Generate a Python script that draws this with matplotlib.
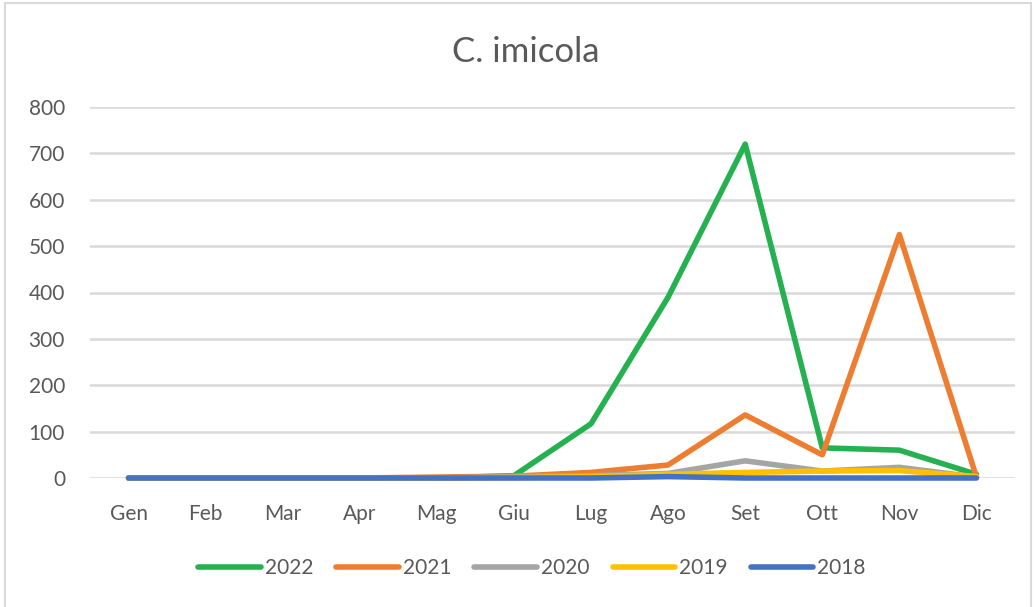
import numpy as np
import matplotlib
matplotlib.use("Agg")
import matplotlib.pyplot as plt
from matplotlib.patches import Rectangle

plt.rcParams['font.family'] = ['Lato', 'DejaVu Sans']

# ==========================================
# DATA
# ==========================================

months = ["Gen", "Feb", "Mar", "Apr", "Mag", "Giu",
          "Lug", "Ago", "Set", "Ott", "Nov", "Dic"]

y2022 = [0, 0, 0, 0, 0, 5, 117, 390, 720, 65, 60, 8]
y2021 = [0, 0, 0, 0, 2, 4, 12, 28, 136, 50, 525, 2]
y2020 = [0, 0, 0, 0, 0, 3, 5, 10, 37, 15, 23, 2]
y2019 = [0, 0, 0, 0, 0, 1, 3, 8, 12, 15, 16, 3]
y2018 = [0, 0, 0, 0, 0, 0, 0, 3, 0, 0, 0, 0]

years = ["2022", "2021", "2020", "2019", "2018"]
series = [y2022, y2021, y2020, y2019, y2018]
colors = ["#25B150", "#ED7D31", "#A5A5A5", "#FFC000", "#4472C4"]

TEXT = "#595959"
GRID = "#D9D9D9"

# ==========================================
# PLOT
# ==========================================

W, H = 1035, 607
fig = plt.figure(figsize=(W / 100, H / 100), dpi=100)
ax = fig.add_axes([90 / W, 1 - 478 / H, (1015 - 90) / W, (478 - 107) / H])

x = np.arange(len(months))
for name, vals, c in zip(years, series, colors):
    ax.plot(x, vals, color=c, lw=4.0, label=name, clip_on=False,
            solid_joinstyle="round", solid_capstyle="round")

ax.set_xlim(-0.5, len(months) - 0.5)
ax.set_ylim(0, 800)
ax.set_yticks(range(0, 801, 100))
ax.set_xticks(x)
ax.set_xticklabels(months)

ax.grid(axis="y", color=GRID, lw=1.8)
ax.set_axisbelow(True)
for s in ax.spines.values():
    s.set_visible(False)
ax.tick_params(axis="y", length=0, pad=18, labelsize=15, labelcolor=TEXT)
ax.tick_params(axis="x", length=0, pad=19, labelsize=15, labelcolor=TEXT)

fig.text(526 / W, 1 - 62 / H, "C. imicola", ha="center", va="baseline",
         fontsize=25, color=TEXT)

leg = fig.legend(loc="center", bbox_to_anchor=(532 / W, 1 - 568 / H),
                 ncol=5, frameon=False, fontsize=15, handlelength=3.0,
                 handletextpad=0.2, columnspacing=1.1)
for t in leg.get_texts():
    t.set_color(TEXT)

# chart border
fig.patches.append(Rectangle((5 / W, -0.05), (1031 - 5) / W, 1.05 - 3 / H,
                             transform=fig.transFigure, fill=False,
                             edgecolor=GRID, lw=1.5))

fig.savefig("out.png", dpi=100)
